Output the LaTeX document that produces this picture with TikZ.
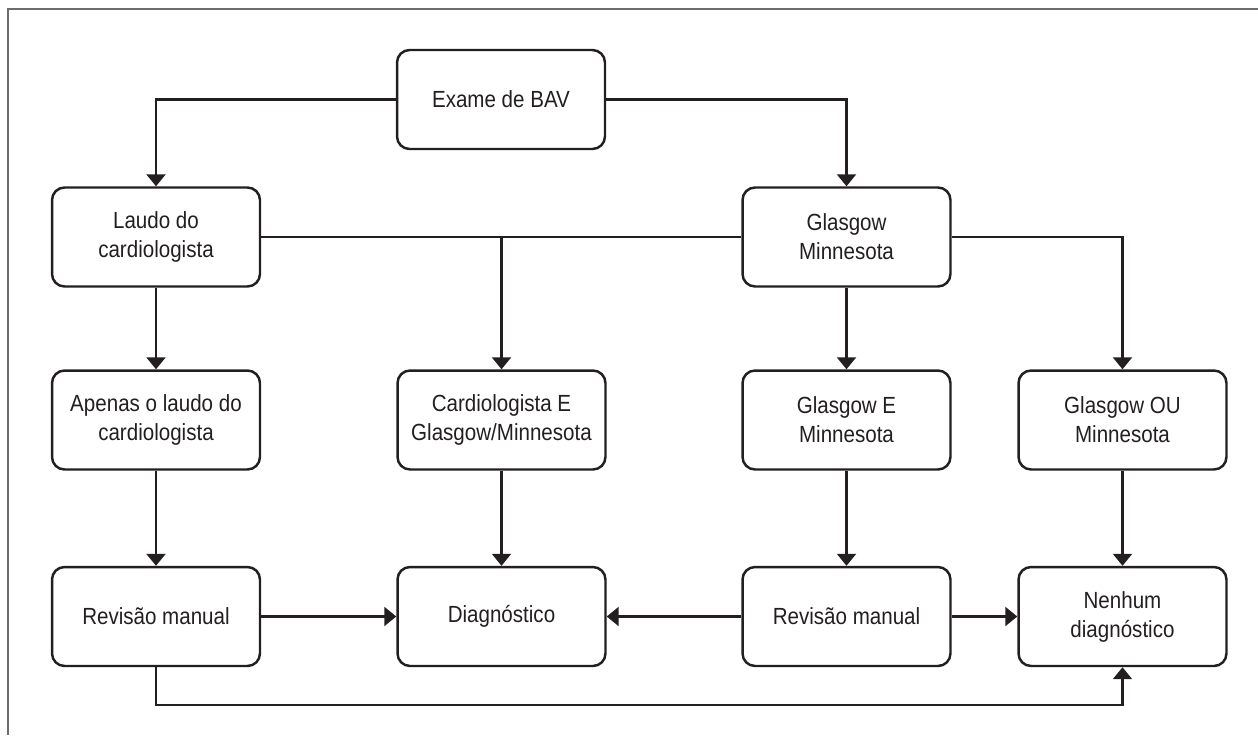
\documentclass[tikz,border=0pt]{standalone}
\usepackage{fontspec}
\setmainfont{Liberation Sans}[FakeStretch=0.88]
\usetikzlibrary{arrows.meta}

\definecolor{inkgray}{HTML}{231F20}
\tikzset{
  box/.style={draw=inkgray, line width=1.4pt, rounded corners=0.25cm,
    minimum width=4.16cm, minimum height=1.98cm, align=center,
    text=inkgray, font=\fontsize{13.3}{16.5}\selectfont},
  arr/.style={draw=inkgray, line width=1.3pt, -{Triangle[length=0.24cm, width=0.38cm]}},
  link/.style={draw=inkgray, line width=1.3pt},
  frame/.style={draw=gray!85!black, line width=0.8pt}
}

\begin{document}
\begin{tikzpicture}[x=0.02cm, y=-0.02cm]
        \useasboundingbox (0,0) rectangle (1258,735);
        \draw[frame] (8,735) -- (8,9) -- (1258,9);

        % first rows
        \node[box] (exame) at (501,99.5) {Exame de BAV};
        \node[box] (laudo) at (156,237) {Laudo do\\cardiologista};
        \node[box] (glasgow) at (846.5,237) {Glasgow\\Minnesota};

        % third row
        \node[box] (apenas) at (156,420) {Apenas o laudo do\\cardiologista};
        \node[box] (cardglas) at (501.5,420) {Cardiologista E\\Glasgow/Minnesota};
        \node[box] (glasgowe) at (846.5,420) {Glasgow E\\Minnesota};
        \node[box] (glasgowou) at (1122.5,420) {Glasgow OU\\Minnesota};

        % last row
        \node[box] (revisaoa) at (156,616.5) {Revisão manual};
        \node[box] (diag) at (501.5,616.5) {Diagnóstico};
        \node[box] (revisaob) at (846.5,616.5) {Revisão manual};
        \node[box] (nenhum) at (1122.5,616.5) {Nenhum\\diagnóstico};
        \coordinate (base) at (0,705);

        \draw[arr] (exame.west) -| (laudo.north);
        \draw[arr] (exame.east) -| (glasgow.north);
        \draw[link] (laudo.east) -- (glasgow.west);
        \draw[arr] (cardglas.north |- laudo.east) -- (cardglas.north);
        \draw[arr] (glasgow.east) -| (glasgowou.north);

        \draw[arr] (laudo) -- (apenas);
        \draw[arr] (glasgow) -- (glasgowe);
        \draw[arr] (apenas) -- (revisaoa);
        \draw[arr] (cardglas) -- (diag);
        \draw[arr] (glasgowe) -- (revisaob);
        \draw[arr] (glasgowou) -- (nenhum);

        \draw[arr] (revisaoa) -- (diag);
        \draw[arr] (revisaob) -- (diag);
        \draw[arr] (revisaob) -- (nenhum);
        \draw[arr] (revisaoa.south) -- (revisaoa.south |- base) -| (nenhum.south);
    \end{tikzpicture}
\end{document}
